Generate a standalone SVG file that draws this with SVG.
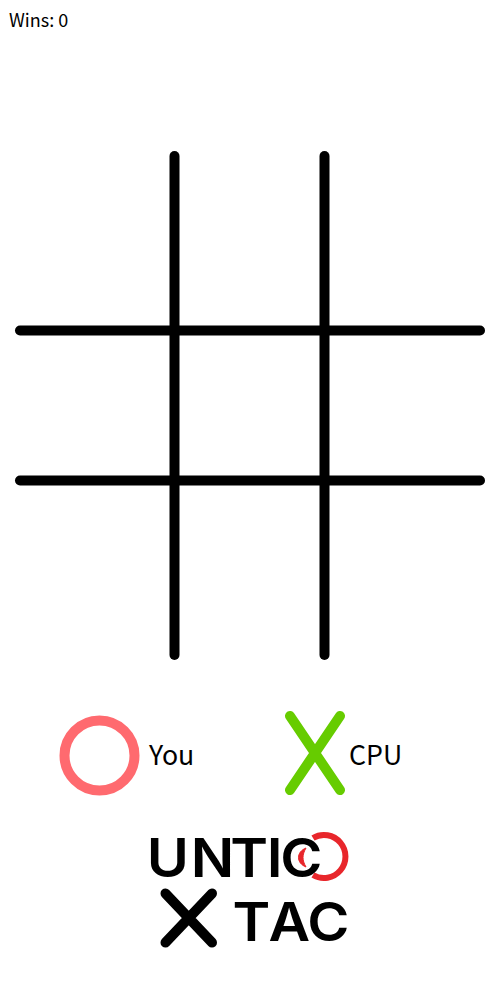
<svg xmlns="http://www.w3.org/2000/svg" width="497" height="987" viewBox="0 0 497 987">
<style>
.t{font-family:"Noto Sans CJK JP","Noto Sans",sans-serif;fill:#000}
.g{stroke:#000;stroke-width:10;stroke-linecap:round;fill:none}
.l{font-family:"Inter","Liberation Sans",sans-serif;font-weight:600;font-size:53px;fill:#000}
</style>
<rect width="497" height="987" fill="#fff"/>
<text class="t" x="9" y="27" font-size="18">Wins: 0</text>
<g id="board">
<line class="g" x1="174.500" y1="156" x2="174.500" y2="655"/>
<line class="g" x1="324.500" y1="156" x2="324.500" y2="655"/>
<line class="g" x1="20" y1="330.500" x2="480" y2="330.500"/>
<line class="g" x1="20" y1="480.500" x2="480" y2="480.500"/>
</g>
<g id="legend-you">
<circle cx="99.500" cy="755.500" r="35" fill="none" stroke="#ff6a6f" stroke-width="10"/>
<text class="t" x="149" y="765" font-size="26.670">You</text>
</g>
<g id="legend-cpu">
<path d="M290 716L340 790M340 716L290 790" fill="none" stroke="#66cc00" stroke-width="10" stroke-linecap="round"/>
<text class="t" x="349" y="765" font-size="26.670">CPU</text>
</g>
<g id="logo">
<path d="M313 838A21.500 21.500 0 1 1 313 875" fill="none" stroke="#e8262b" stroke-width="6"/>
<text class="l" transform="scale(1.08 1)" x="136 176.600 213.300 246.900 259.500" y="877">UNTIC</text>
<path d="M306 848C296 852 296 863 306 867C302 860 302 855 306 848Z" fill="#e8262b" stroke="#e8262b" stroke-width="1"/>
<path d="M165.500 893.500L212 942.500M212 893.500L165.500 942.500" fill="none" stroke="#000" stroke-width="10" stroke-linecap="round"/>
<text class="l" transform="scale(1.08 1)" x="215.200 248.600 284.500" y="941">TAC</text>
</g>
</svg>
